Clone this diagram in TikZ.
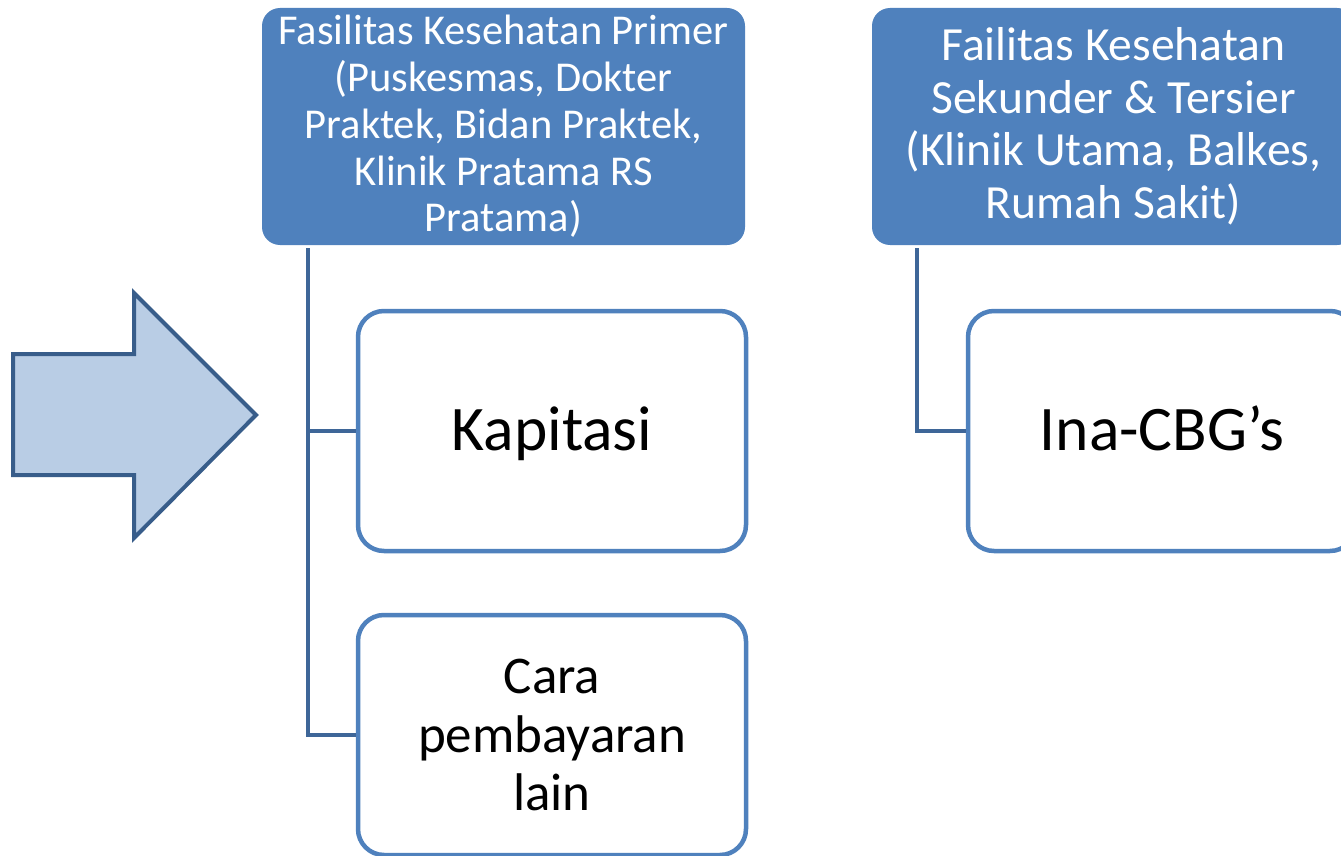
\documentclass[tikz,border=0pt]{standalone}
\usepackage{fontspec}
\setmainfont{Carlito}
\definecolor{hdrblue}{HTML}{4F81BD}
\definecolor{connblue}{HTML}{3E6698}
\definecolor{arrfill}{HTML}{B9CDE5}
\definecolor{arrdraw}{HTML}{385D8A}
\tikzset{
  hdrbox/.style={rectangle, rounded corners=18pt, fill=hdrblue, draw=none,
    minimum width=483pt, minimum height=237pt, text=white, align=center, inner sep=0pt},
  leafbox/.style={rectangle, rounded corners=26pt, fill=white, draw=hdrblue, line width=4.5pt,
    minimum width=388pt, minimum height=240pt, text=black, align=center, inner sep=0pt},
  bigleaf/.style={leafbox, font=\fontsize{63.5}{70}\selectfont, text height=50pt, text depth=12pt},
  conn/.style={draw=connblue, line width=4pt},
}
\begin{document}
\begin{tikzpicture}[x=1pt,y=-1pt]
\useasboundingbox (0,0) rectangle (1341,856);
\clip (0,0) rectangle (1341,856);
% big arrow
\draw[fill=arrfill, draw=arrdraw, line width=4pt, line join=miter]
  (13,354) -- (134,354) -- (134,293) -- (256,415) -- (134,538) -- (134,475) -- (13,475) -- cycle;
% header boxes
\node[hdrbox, font=\fontsize{42.5}{46.8}\selectfont] (b1) at (503.5,126.5)
  {Fasilitas Kesehatan Primer\\(Puskesmas, Dokter\\Praktek, Bidan Praktek,\\Klinik Pratama RS\\Pratama)};
\node[hdrbox, font=\fontsize{47.6}{52.5}\selectfont] (b2) at (1113.5,126.5)
  {Failitas Kesehatan\\Sekunder \& Tersier\\(Klinik Utama, Balkes,\\Rumah Sakit)};
% leaf boxes
\node[bigleaf] (kap) at (552,431) {Kapitasi};
\node[leafbox, font=\fontsize{53}{58.5}\selectfont] (cara) at (552,735) {Cara\\pembayaran\\lain};
\node[bigleaf] (ina) at (1162,431) {Ina-CBG’s};
% connectors
\coordinate (t1) at (308,248);
\coordinate (t2) at (917,248);
\draw[conn] (t1) |- (kap.west);
\draw[conn] (t1) |- (cara.west);
\draw[conn] (t2) |- (ina.west);
\end{tikzpicture}
\end{document}
